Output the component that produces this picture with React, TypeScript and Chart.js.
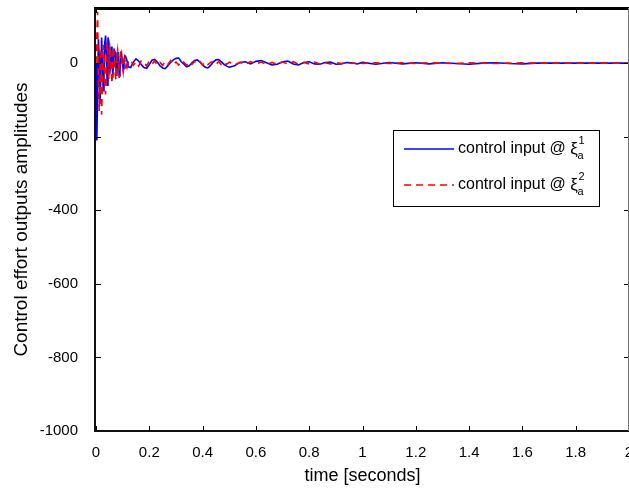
import React, { useEffect, useRef } from 'react';
import { Chart, registerables } from 'chart.js';

Chart.register(...registerables);

// time samples (seconds)
const times = [
  0, 0.003, 0.006, 0.009, 0.012, 0.015, 0.018, 0.021, 0.024, 0.027,
  0.03, 0.033, 0.036, 0.039, 0.042, 0.045, 0.048, 0.051, 0.054, 0.057,
  0.06, 0.063, 0.066, 0.069, 0.072, 0.075, 0.078, 0.081, 0.084, 0.087,
  0.09, 0.093, 0.096, 0.099, 0.102, 0.105, 0.108, 0.111, 0.114, 0.117,
  0.12,
  0.13, 0.14, 0.15, 0.16, 0.17, 0.18, 0.19, 0.2, 0.21, 0.22,
  0.23, 0.24, 0.25, 0.26, 0.27, 0.28, 0.29, 0.3, 0.31, 0.32,
  0.33, 0.34, 0.35, 0.36, 0.37, 0.38, 0.39, 0.4, 0.41, 0.42,
  0.43, 0.44, 0.45, 0.46, 0.47, 0.48, 0.49, 0.5,
  0.52, 0.54, 0.56, 0.58, 0.6, 0.62, 0.64, 0.66, 0.68, 0.7,
  0.72, 0.74, 0.76, 0.78, 0.8, 0.82, 0.84, 0.86, 0.88, 0.9,
  0.92, 0.94, 0.96, 0.98, 1.0,
  1.05, 1.1, 1.15, 1.2, 1.25, 1.3, 1.35, 1.4, 1.45, 1.5,
  1.55, 1.6, 1.65, 1.7, 1.75, 1.8, 1.85, 1.9, 1.95, 2.0,
];

// control input @ xi_a^1 (blue)
const input1Values = [
  0, -210, -95, 65, 20, -110, -40, 70, 10, -75,
  -30, 55, 75, 20, -60, 70, 40, -30, -10, 45,
  20, -40, 15, 35, 30, -20, -35, 10, 30, -35,
  -20, 15, 25, 0, -15, 10, 20, 18, 12, 5,
  -10,
  -12, 3, 12, 6, -4, -12, -14, -4, 8, 10,
  3, -7, -13, -15, -6, 2, 9, 13, 14, 4,
  -3, -10, -7, 1, 7, 9, 3, -5, -11, -13,
  -6, 3, 9, 10, 4, -3, -8, -11,
  -7, 2, 4, -2, 5, 7, 1, -5, -3, 4,
  6, -2, -5, 2, 4, -2, -3, 2, 3, -3,
  -2, 2, 1, -2, 2,
  -3, 2, -2, 1, -2, 1, -1, -3, 0, 1,
  -1, -2, 0, 0, 0, 0, 0, 0, 0, 0,
];

// control input @ xi_a^2 (red)
const input2Values = [
  0, 70, 140, -60, -130, -40, 40, -140, -60, 50,
  30, -50, -85, 10, 55, 20, -45, 50, 40, -20,
  -55, 5, 45, 10, -30, -45, 20, 35, 0, -40,
  10, 30, 30, -10, -25, -5, 10, -15, 5, -10,
  0,
  8, -6, 3, -8, 6, 2, -7, 5, -3, 6,
  -5, 2, -6, 4, -3, 7, -4, 3, -5, 6,
  2, -6, 4, -3, 5, -2, 4, -5, 3, -4,
  2, 5, -3, 4, -4, 2, -3, 3,
  -4, 2, -3, 4, -2, 3, -4, 2, -3, 3,
  -2, 4, -3, 2, -2, 3, -2, 1, -2, 2,
  -1, 2, -1, 1, -1,
  1, -1, 1, -1, 1, 0, -1, 1, 0, -1,
  0, 1, 0, 0, 0, 0, 0, 0, 0, 0,
];

const seriesColors = ['#0000ff', '#ff0000'];
const seriesDash = [[], [7, 5]];

const xTickValues = [0, 0.2, 0.4, 0.6, 0.8, 1, 1.2, 1.4, 1.6, 1.8, 2];
const yTickValues = [-1000, -800, -600, -400, -200, 0];

const legendText = 'control input @ ';
const legendSymbol = 'ξ';
const legendSub = 'a';
const legendSups = ['1', '2'];

const xTitle = 'time [seconds]';
const yTitle = 'Control effort outputs amplitudes';

const FONT = '"Liberation Sans", Arial, Helvetica, sans-serif';

const framePlugin = {
  id: 'matlabFrame',
  afterDraw(chart: any) {
    const { ctx, chartArea: a, scales } = chart;
    const xs = scales.x;
    const ys = scales.y;
    ctx.save();
    // inward ticks
    ctx.strokeStyle = '#000';
    ctx.lineWidth = 1;
    ctx.beginPath();
    xs.ticks.forEach((t: any) => {
      const px = Math.round(xs.getPixelForValue(t.value)) + 0.5;
      ctx.moveTo(px, a.bottom);
      ctx.lineTo(px, a.bottom - 5);
      ctx.moveTo(px, a.top);
      ctx.lineTo(px, a.top + 5);
    });
    ys.ticks.forEach((t: any) => {
      const py = Math.round(ys.getPixelForValue(t.value)) + 0.5;
      ctx.moveTo(a.left, py);
      ctx.lineTo(a.left + 5, py);
      ctx.moveTo(a.right, py);
      ctx.lineTo(a.right - 5, py);
    });
    ctx.stroke();

    // box
    ctx.strokeStyle = '#000';
    ctx.lineWidth = 3;
    ctx.beginPath();
    ctx.moveTo(a.left - 2, a.top + 0.5);
    ctx.lineTo(a.right, a.top + 0.5);
    ctx.stroke();
    ctx.lineWidth = 2;
    ctx.strokeStyle = '#111';
    ctx.beginPath();
    ctx.moveTo(a.left - 1, a.top);
    ctx.lineTo(a.left - 1, a.bottom);
    ctx.lineTo(a.right, a.bottom);
    ctx.stroke();
    ctx.lineWidth = 1;
    ctx.strokeStyle = '#777';
    ctx.beginPath();
    ctx.moveTo(a.right - 0.5, a.top);
    ctx.lineTo(a.right - 0.5, a.bottom);
    ctx.stroke();

    // legend
    const lx = 393.5, ly = 130.5, lw = 206, lh = 76;
    ctx.fillStyle = '#fff';
    ctx.fillRect(lx, ly, lw, lh);
    ctx.strokeStyle = '#000';
    ctx.lineWidth = 1;
    ctx.strokeRect(lx, ly, lw, lh);
    const rows = [149, 185];
    rows.forEach((row, i) => {
      const y = row;
      ctx.strokeStyle = seriesColors[i];
      ctx.lineWidth = 1.5;
      ctx.setLineDash(seriesDash[i]);
      ctx.beginPath();
      ctx.moveTo(404, y);
      ctx.lineTo(454, y);
      ctx.stroke();
      ctx.setLineDash([]);
      ctx.fillStyle = '#000';
      ctx.textBaseline = 'middle';
      ctx.textAlign = 'left';
      ctx.font = '16px ' + FONT;
      ctx.fillText(legendText, 458, y);
      const w = ctx.measureText(legendText).width;
      ctx.font = '17px ' + FONT;
      ctx.fillText(legendSymbol, 458 + w, y);
      const w2 = ctx.measureText(legendSymbol).width;
      ctx.font = '11px ' + FONT;
      ctx.fillText(legendSups[i], 458 + w + w2 + 0.5, y - 8);
      ctx.fillText(legendSub, 458 + w + w2 - 0.5, y + 7);
    });
    ctx.restore();
  },
};

export default function App() {
  const ref = useRef<HTMLCanvasElement | null>(null);

  useEffect(() => {
    if (!ref.current) return;
    const blue = times.map((t, i) => ({ x: t, y: input1Values[i] }));
    const red = times.map((t, i) => ({ x: t, y: input2Values[i] }));
    const chart = new Chart(ref.current, {
      type: 'line',
      data: {
        datasets: [
          {
            label: 'control input @ ξa1',
            data: blue,
            borderColor: seriesColors[0],
            borderWidth: 1.6,
            pointRadius: 0,
            tension: 0,
            fill: false,
            order: 2,
          },
          {
            label: 'control input @ ξa2',
            data: red,
            borderColor: seriesColors[1],
            borderWidth: 1.6,
            borderDash: seriesDash[1],
            pointRadius: 0,
            tension: 0,
            fill: false,
            order: 1,
          },
        ],
      },
      options: {
        responsive: false,
        animation: false,
        events: [],
        layout: { padding: { top: 8, right: 0, left: 0, bottom: 0 } },
        plugins: {
          legend: { display: false },
          tooltip: { enabled: false },
        },
        scales: {
          x: {
            type: 'linear',
            min: 0,
            max: 2,
            grid: { display: false, drawTicks: false },
            border: { display: false },
            afterBuildTicks: (s: any) => {
              s.ticks = xTickValues.map((v) => ({ value: v }));
            },
            afterFit: (s: any) => {
              s.height = 61;
              s.paddingLeft = 0;
              s.paddingRight = 0;
            },
            ticks: {
              padding: 13,
              color: '#000',
              maxRotation: 0,
              autoSkip: false,
              font: { family: FONT, size: 15 },
              callback: (v: any) => String(Math.round(Number(v) * 10) / 10),
            },
            title: {
              display: true,
              text: xTitle,
              color: '#000',
              font: { family: FONT, size: 18 },
              padding: { top: 0, bottom: 5 },
            },
          },
          y: {
            type: 'linear',
            min: -1000,
            max: 150,
            grid: { display: false, drawTicks: false },
            border: { display: false },
            afterBuildTicks: (s: any) => {
              s.ticks = yTickValues.map((v) => ({ value: v }));
            },
            afterFit: (s: any) => {
              s.width = 96;
              s.paddingTop = 0;
              s.paddingBottom = 0;
            },
            ticks: {
              padding: 18,
              color: '#000',
              autoSkip: false,
              font: { family: FONT, size: 15 },
              callback: (v: any) => String(v),
            },
            title: {
              display: true,
              text: yTitle,
              color: '#000',
              font: { family: FONT, size: 19 },
              padding: { top: 10, bottom: 0 },
            },
          },
        },
      },
      plugins: [framePlugin],
    });
    return () => chart.destroy();
  }, []);

  return (
    <div style={{ position: 'absolute', left: 0, top: 0, width: 629, height: 492, background: '#fff' }}>
      <canvas ref={ref} width={629} height={492} style={{ display: 'block' }} />
    </div>
  );
}
